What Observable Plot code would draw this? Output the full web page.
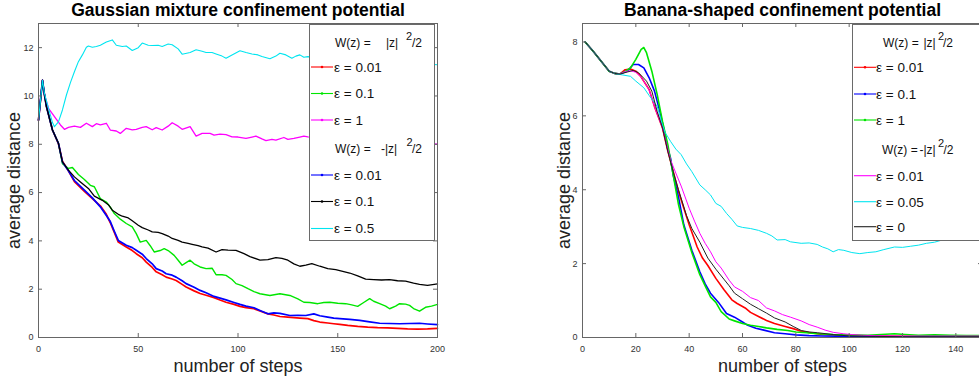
<!DOCTYPE html>
<html><head><meta charset="utf-8">
<script src="https://cdn.jsdelivr.net/npm/d3@7"></script>
<script src="https://cdn.jsdelivr.net/npm/@observablehq/plot@0.6"></script>
<style>
html,body{margin:0;padding:0;background:#fff;overflow:hidden;}
#wrap{position:relative;width:979px;height:383px;overflow:hidden;background:#fff;font-family:"Liberation Sans",Arial,Helvetica,sans-serif;}
.panel{position:absolute;top:0;}
.legend{position:absolute;}
</style></head>
<body><div id="wrap"></div>
<script>
// ---------------- DATA ----------------
// Left panel: Gaussian mixture confinement potential  [step, average distance]
const gaussTitle = "Gaussian mixture confinement potential";
const gaussXTicks = [0, 50, 100, 150, 200];
const gaussYTicks = [0, 2, 4, 6, 8, 10, 12];
const gaussPosRed = [[0,9.0],[2,10.65],[3,10.05],[4,9.56],[7,8.59],[10,8.02],[12,7.3],[15,6.9],[18,6.45],[23,6.05],[27,5.75],[31,5.45],[34,5.1],[36,4.75],[38,4.35],[40,3.95],[44,3.75],[47,3.6],[49,3.47],[52,3.3],[54,3.12],[57,2.9],[59,2.72],[62,2.6],[64,2.5],[67,2.42],[69,2.36],[72,2.2],[74,2.09],[78,1.93],[81,1.82],[84,1.75],[88,1.65],[91,1.55],[94,1.46],[98,1.37],[101,1.29],[104,1.24],[108,1.19],[111,1.1],[115,0.98],[118,0.93],[121,0.87],[125,0.84],[128,0.82],[131,0.8],[135,0.78],[138,0.7],[141,0.64],[145,0.6],[148,0.57],[151,0.54],[155,0.5],[160,0.46],[165,0.43],[170,0.41],[175,0.4],[180,0.38],[185,0.36],[190,0.35],[195,0.36],[200,0.38]];
const gaussPosGreen = [[0,9.0],[2,10.65],[3,10.05],[4,9.56],[7,8.59],[10,8.04],[12,7.2],[15,7.0],[17,7.04],[20,6.75],[23,6.54],[26,6.3],[28,6.24],[31,5.75],[34,5.61],[36,5.4],[38,5.13],[41,4.9],[44,4.72],[47,4.58],[49,4.3],[51,3.95],[54,4.02],[56,3.8],[58,3.54],[61,3.6],[63,3.68],[65,3.6],[68,3.4],[70,3.2],[72,2.99],[74,3.1],[76,3.2],[78,3.05],[81,2.92],[84,2.85],[87,2.87],[89,2.6],[92,2.6],[94,2.57],[97,2.4],[99,2.23],[102,2.15],[105,2.02],[108,1.9],[111,1.81],[116,1.74],[121,1.81],[126,1.74],[130,1.6],[133,1.46],[136,1.45],[140,1.4],[143,1.45],[146,1.46],[150,1.42],[154,1.4],[157,1.35],[160,1.29],[163,1.45],[166,1.61],[168,1.5],[171,1.4],[174,1.3],[176,1.19],[179,1.3],[181,1.4],[184,1.38],[186,1.33],[188,1.2],[191,1.09],[194,1.25],[197,1.3],[200,1.37]];
const gaussPosMagenta = [[0,9.0],[2,10.65],[3,10.05],[5,9.49],[9,9.03],[11,8.8],[13,8.62],[15,8.7],[18,8.75],[21,8.7],[24,8.87],[27,8.73],[29,8.85],[31,8.8],[34,8.87],[36,8.59],[39,8.55],[41,8.45],[44,8.66],[47,8.6],[49,8.62],[52,8.7],[54,8.73],[57,8.6],[59,8.69],[62,8.59],[65,8.75],[67,8.89],[70,8.75],[72,8.62],[76,8.73],[79,8.34],[82,8.45],[86,8.45],[88,8.38],[91,8.42],[94,8.4],[97,8.31],[100,8.3],[104,8.24],[107,8.3],[109,8.34],[112,8.22],[114,8.15],[117,8.2],[119,8.17],[123,8.28],[125,8.2],[128,8.24],[131,8.3],[133,8.34],[135,8.31],[145,8.25],[160,8.2],[175,8.15],[190,8.05],[200,8.0]];
const gaussNegBlue = [[0,9.0],[2,10.65],[3,10.05],[4,9.56],[7,8.59],[10,8.04],[12,7.27],[15,6.9],[18,6.5],[23,6.1],[27,5.78],[31,5.41],[34,5.05],[36,4.8],[38,4.4],[40,4.02],[44,3.82],[47,3.72],[49,3.61],[52,3.45],[54,3.27],[57,3.05],[59,2.85],[62,2.75],[64,2.64],[67,2.58],[69,2.5],[72,2.35],[74,2.23],[78,2.08],[81,1.95],[84,1.85],[88,1.7],[91,1.63],[94,1.56],[98,1.45],[101,1.37],[104,1.3],[108,1.23],[111,1.12],[115,0.98],[118,1.02],[121,1.0],[126,0.91],[130,0.92],[134,0.91],[138,0.98],[141,0.9],[145,0.84],[148,0.8],[151,0.78],[156,0.75],[161,0.71],[166,0.65],[171,0.59],[176,0.58],[181,0.57],[186,0.58],[191,0.59],[195,0.56],[200,0.53]];
const gaussNegBlack = [[0,9.0],[2,10.65],[3,10.05],[4,9.56],[7,8.59],[10,8.04],[12,7.27],[15,6.93],[18,6.65],[21,6.44],[25,6.17],[28,5.85],[32,5.68],[35,5.5],[37,5.27],[40,5.1],[42,5.02],[45,4.95],[47,4.83],[50,4.65],[52,4.55],[55,4.45],[57,4.37],[60,4.35],[62,4.3],[65,4.2],[67,4.1],[70,4.02],[72,3.95],[75,3.9],[77,3.86],[80,3.8],[82,3.75],[85,3.7],[89,3.54],[92,3.64],[95,3.62],[99,3.61],[103,3.47],[106,3.35],[111,3.2],[115,3.22],[119,3.31],[122,3.28],[125,3.2],[128,3.05],[131,2.95],[134,3.0],[137,3.06],[141,2.95],[145,2.85],[149,2.81],[152,2.75],[156,2.67],[160,2.55],[164,2.42],[168,2.4],[172,2.38],[176,2.4],[180,2.35],[184,2.33],[188,2.25],[191,2.2],[195,2.16],[200,2.22]];
const gaussNegCyan = [[0,9.0],[2,10.65],[3,10.1],[5,9.5],[7,8.9],[8,8.73],[10,8.93],[12,9.42],[14,10.04],[16,10.55],[18,11.0],[20,11.42],[22,11.7],[24,12.02],[25,12.07],[27,12.02],[29,12.05],[31,12.1],[34,12.23],[37,12.32],[39,12.1],[42,12.05],[44,12.07],[47,11.88],[50,12.0],[52,12.19],[55,12.1],[57,12.09],[60,12.1],[62,12.05],[65,12.15],[67,12.12],[70,11.95],[72,11.73],[76,11.8],[79,11.91],[82,11.85],[84,11.8],[87,11.8],[89,11.74],[92,11.65],[94,11.56],[97,11.7],[101,11.87],[104,11.8],[107,11.74],[110,11.7],[112,11.63],[116,11.54],[119,11.65],[121,11.77],[124,11.7],[127,11.56],[129,11.65],[131,11.7],[133,11.6],[135,11.63],[150,11.5],[165,11.45],[180,11.4],[200,11.29]];

// Right panel: Banana-shaped confinement potential
const bananaTitle = "Banana-shaped confinement potential";
const bananaXTicks = [0, 20, 40, 60, 80, 100, 120, 140];
const bananaYTicks = [0, 2, 4, 6, 8];
const bananaPosRed = [[1,8.0],[4,7.75],[7,7.48],[10,7.21],[12,7.15],[14,7.13],[16,7.25],[18,7.27],[20,7.21],[22,7.05],[25,6.71],[27,6.25],[30,5.67],[32,5.05],[34,4.5],[36,3.95],[38,3.5],[40,3.05],[43,2.45],[45,2.15],[47,1.95],[50,1.6],[53,1.3],[56,1.02],[58,0.92],[61,0.8],[63,0.68],[66,0.57],[69,0.46],[72,0.38],[76,0.3],[79,0.24],[82,0.17],[86,0.12],[90,0.08],[95,0.06],[100,0.05],[110,0.04],[120,0.03],[130,0.03],[140,0.03],[150,0.03]];
const bananaPosBlue = [[1,8.0],[4,7.75],[7,7.48],[10,7.21],[12,7.15],[14,7.13],[17,7.22],[19,7.39],[21,7.39],[23,7.3],[25,7.03],[27,6.67],[29,6.12],[30,5.8],[31,5.49],[32,5.1],[33,4.86],[34,4.4],[35,4.1],[36,3.8],[38,3.05],[41,2.36],[44,1.78],[46,1.45],[48,1.2],[51,0.95],[54,0.65],[57,0.55],[60,0.42],[62,0.33],[65,0.25],[68,0.2],[72,0.13],[76,0.1],[80,0.07],[85,0.05],[90,0.04],[100,0.03],[110,0.02],[120,0.02],[130,0.02],[140,0.02],[150,0.02]];
const bananaPosGreen = [[1,8.0],[4,7.75],[7,7.48],[10,7.21],[12,7.15],[14,7.13],[16,7.2],[18,7.3],[20,7.53],[22,7.8],[23,7.85],[24,7.71],[26,7.21],[28,6.58],[30,5.85],[32,5.22],[34,4.4],[36,3.6],[38,3.0],[41,2.3],[44,1.7],[46,1.4],[48,1.1],[50,0.95],[52,0.7],[55,0.5],[57,0.45],[60,0.38],[63,0.33],[66,0.3],[69,0.26],[73,0.22],[77,0.19],[80,0.15],[84,0.13],[88,0.1],[94,0.08],[100,0.07],[107,0.06],[112,0.08],[117,0.1],[121,0.08],[126,0.06],[132,0.07],[138,0.06],[144,0.05],[150,0.05]];
const bananaNegMagenta = [[1,8.0],[4,7.75],[7,7.48],[10,7.21],[12,7.15],[14,7.13],[16,7.2],[18,7.22],[20,7.18],[22,7.05],[25,6.7],[27,6.25],[30,5.67],[32,5.1],[33,4.81],[35,4.45],[37,4.1],[40,3.5],[42,3.15],[44,2.82],[46,2.55],[48,2.32],[50,2.05],[52,1.88],[55,1.55],[57,1.37],[60,1.25],[63,1.08],[66,1.0],[69,0.8],[72,0.72],[75,0.62],[78,0.55],[82,0.45],[85,0.35],[88,0.28],[91,0.2],[94,0.14],[98,0.1],[101,0.08],[105,0.06],[110,0.05],[120,0.04],[130,0.04],[140,0.04],[150,0.04]];
const bananaNegCyan = [[1,8.0],[4,7.75],[7,7.48],[10,7.21],[12,7.15],[14,7.12],[18,7.07],[20,6.94],[23,6.76],[25,6.55],[28,6.26],[30,5.75],[31,5.55],[33,5.31],[35,5.1],[37,4.95],[39,4.7],[41,4.49],[44,4.13],[46,4.0],[48,3.86],[50,3.63],[52,3.55],[54,3.36],[56,3.2],[58,3.02],[60,2.98],[63,2.95],[66,2.9],[69,2.82],[71,2.75],[73,2.64],[76,2.65],[78,2.59],[82,2.55],[85,2.56],[88,2.52],[90,2.45],[92,2.4],[94,2.32],[96,2.38],[98,2.36],[101,2.3],[104,2.27],[107,2.3],[110,2.32],[113,2.38],[117,2.45],[120,2.44],[123,2.47],[126,2.5],[129,2.55],[132,2.58],[134,2.62],[137,2.68],[142,2.75],[146,2.82],[150,2.88]];
const bananaNegBlack = [[1,8.0],[4,7.75],[7,7.48],[10,7.21],[12,7.15],[14,7.13],[17,7.19],[19,7.23],[21,7.17],[24,6.94],[26,6.67],[28,6.12],[30,5.67],[32,5.04],[34,4.49],[36,4.0],[39,3.3],[41,2.95],[44,2.58],[47,2.15],[50,1.85],[53,1.58],[55,1.4],[57,1.2],[60,1.05],[63,0.9],[66,0.78],[69,0.66],[72,0.53],[76,0.42],[79,0.3],[82,0.19],[85,0.15],[88,0.13],[94,0.08],[100,0.04],[110,0.03],[120,0.02],[130,0.02],[140,0.02],[150,0.02]];

const xLabel = "number of steps";
const yLabel = "average distance";
const headerPos = ["W(z) =", "|z|", "2", "/2"];
const headerNeg = ["W(z) =", "-|z|", "2", "/2"];
const gaussLabels = ["ε = 0.01", "ε = 0.1", "ε = 1", "ε = 0.01", "ε = 0.1", "ε = 0.5"];
const bananaLabels = ["ε = 0.01", "ε = 0.1", "ε = 1", "ε = 0.01", "ε = 0.05", "ε = 0"];

// ---------------- STYLES ----------------
const FONT = '"Liberation Sans", Arial, Helvetica, sans-serif';
const AX = "#666";
const gaussSeries = [
  {data: gaussPosRed, color: "#ff0000", w: 1.7, dot: true},
  {data: gaussPosGreen, color: "#00e600", w: 1.4, dot: true},
  {data: gaussPosMagenta, color: "#ff00ff", w: 1.3, dot: true},
  {data: gaussNegBlue, color: "#0000ff", w: 1.7, dot: true},
  {data: gaussNegBlack, color: "#000000", w: 1.3, dot: true},
  {data: gaussNegCyan, color: "#00e5f0", w: 1.1, dot: false}
];
const bananaSeries = [
  {data: bananaPosRed, color: "#ff0000", w: 1.6, dot: true},
  {data: bananaPosBlue, color: "#0000ff", w: 1.6, dot: true},
  {data: bananaPosGreen, color: "#00e600", w: 1.6, dot: true},
  {data: bananaNegMagenta, color: "#ff00ff", w: 1.0, dot: false},
  {data: bananaNegCyan, color: "#00e5f0", w: 1.0, dot: false},
  {data: bananaNegBlack, color: "#222222", w: 1.0, dot: false}
];

function panel({title, series, xDomain, yDomain, xTicks, yTicks, width, mL, mR, yLabelDx}) {
  const mT = 23, mB = 46, height = 383;
  const pw = width - mL - mR, ph = height - mT - mB;
  const marks = series.map(s => Plot.line(s.data, {x: d => d[0], y: d => d[1], stroke: s.color, strokeWidth: s.w, strokeLinejoin: "round"}));
  marks.push(
    Plot.frame({stroke: AX, strokeWidth: 1}),
    Plot.tickX(xTicks, {x: d => d, stroke: AX, insetTop: ph - 4}),
    Plot.tickX(xTicks, {x: d => d, stroke: AX, insetBottom: ph - 4}),
    Plot.tickY(yTicks, {y: d => d, stroke: AX, insetRight: pw - 4}),
    Plot.tickY(yTicks, {y: d => d, stroke: AX, insetLeft: pw - 4}),
    Plot.axisX({ticks: xTicks, tickSize: 0, tickPadding: 8, fontSize: 9, color: "#333", label: null}),
    Plot.axisY({ticks: yTicks, tickSize: 0, tickPadding: 5, fontSize: 9, color: "#333", label: null}),
    Plot.text([title], {text: d => d, frameAnchor: "top", lineAnchor: "middle", textAnchor: "middle", dy: -13.6, fontSize: 17.5, fontWeight: "bold", fill: "#000"}),
    Plot.text([xLabel], {text: d => d, frameAnchor: "bottom", lineAnchor: "middle", textAnchor: "middle", dy: 29, fontSize: 18, fill: "#222"}),
    Plot.text([yLabel], {text: d => d, frameAnchor: "left", lineAnchor: "middle", textAnchor: "middle", dx: yLabelDx, rotate: -90, fontSize: 18, fill: "#222"})
  );
  return Plot.plot({
    width, height, marginLeft: mL, marginRight: mR, marginTop: mT, marginBottom: mB,
    x: {domain: xDomain}, y: {domain: yDomain},
    style: {fontFamily: FONT, background: "transparent", overflow: "visible"},
    marks
  });
}

function legend(container, {left, top, width, height, sw0, txt0, rows, headers, series, labels}) {
  const svg = d3.select(container).append("svg")
    .attr("class", "legend")
    .style("left", left + "px").style("top", top + "px")
    .attr("width", width).attr("height", height)
    .style("font-family", FONT);
  svg.append("rect").attr("x", 0.5).attr("y", 0.5).attr("width", width - 1).attr("height", height - 1)
    .attr("fill", "#fff").attr("stroke", "#6a6a6a");
  const fs = 13.5;
  headers.forEach(h => {
    const base = h.y - top + 4.4;
    svg.append("text").attr("x", h.xs[0] - left).attr("y", base).attr("font-size", 12).attr("fill", "#111").text(h.parts[0]);
    svg.append("text").attr("x", h.xs[1] - left).attr("y", base).attr("font-size", 12).attr("fill", "#111").text(h.parts[1]);
    svg.append("text").attr("x", h.xs[2] - left).attr("y", base - 7).attr("font-size", 11).attr("fill", "#111").text(h.parts[2]);
    svg.append("text").attr("x", h.xs[3] - left).attr("y", base).attr("font-size", 12).attr("fill", "#111").text(h.parts[3]);
  });
  series.forEach((s, i) => {
    const y = rows[i] - top;
    svg.append("line").attr("x1", sw0 - left).attr("x2", sw0 - left + 22).attr("y1", y).attr("y2", y)
      .attr("stroke", s.color).attr("stroke-width", 1.1);
    if (s.dot) svg.append("circle").attr("cx", sw0 - left + 11).attr("cy", y).attr("r", 1.3).attr("fill", s.color);
    svg.append("text").attr("x", txt0 - left).attr("y", y + 4.8).attr("font-size", fs).attr("fill", "#111").text(labels[i]);
  });
}

const wrap = document.getElementById("wrap");
const left = panel({title: gaussTitle, series: gaussSeries, xDomain: [0, 200], yDomain: [0, 13],
  xTicks: gaussXTicks, yTicks: gaussYTicks, width: 490, mL: 38, mR: 53, yLabelDx: -24});
left.classList.add("panel"); left.style.left = "0px";
wrap.appendChild(left);
const right = panel({title: bananaTitle, series: bananaSeries, xDomain: [0, 150], yDomain: [0, 8.5],
  xTicks: bananaXTicks, yTicks: bananaYTicks, width: 510, mL: 92, mR: 18, yLabelDx: -18});
right.classList.add("panel"); right.style.left = "490px";
wrap.appendChild(right);

legend(wrap, {left: 309, top: 24, width: 126, height: 217, sw0: 311, txt0: 334,
  rows: [67, 93.5, 120, 175, 201.5, 228.5],
  headers: [{y: 42.5, xs: [335, 386, 406, 412], parts: headerPos}, {y: 149, xs: [335, 381, 406.5, 412], parts: headerNeg}],
  series: gaussSeries, labels: gaussLabels});
legend(wrap, {left: 852, top: 24, width: 140, height: 217, sw0: 854, txt0: 876,
  rows: [67.3, 94, 120, 175.7, 201.7, 226.7],
  headers: [{y: 42.3, xs: [883, 923.5, 938, 943], parts: headerPos}, {y: 150, xs: [882, 919.5, 938, 943.5], parts: headerNeg}],
  series: bananaSeries, labels: bananaLabels});
</script></body></html>
